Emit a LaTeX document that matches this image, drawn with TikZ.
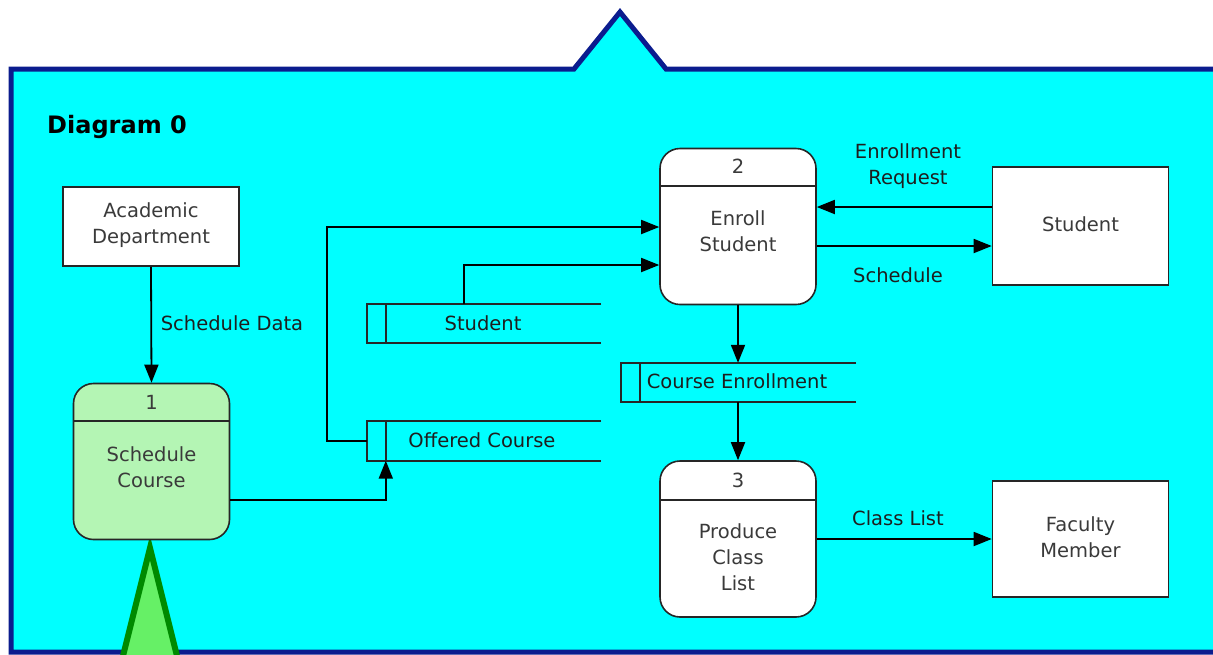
\documentclass[tikz,border=0pt]{standalone}
\usepackage{fontspec}
\setmainfont{DejaVu Sans}
\usetikzlibrary{arrows.meta}
\definecolor{frameblue}{HTML}{0B1C8E}
\definecolor{bgcyan}{HTML}{00FFFF}
\definecolor{procgreen}{HTML}{B4F5B4}
\definecolor{trifill}{HTML}{66F066}
\definecolor{tridraw}{HTML}{008A00}
\definecolor{inktext}{HTML}{1E1E1E}
\definecolor{boxtext}{HTML}{3A3A3A}
\begin{document}
\begin{tikzpicture}[x=1pt,y=-1pt,
  txt/.style={font=\fontsize{19.5}{26}\selectfont, align=center, inner sep=0pt},
  lbl/.style={txt, text=inktext},
  flow/.style={line width=1.8pt, draw=black, -{Triangle[length=18pt,width=14pt]}},
  plain/.style={line width=1.8pt, draw=black!85},
  extbox/.style={draw=black!85, line width=1.6pt, fill=white, minimum width=176pt, inner sep=0pt},
  procbox/.style={draw=black!85, line width=1.6pt, rounded corners=20pt, minimum width=156pt, minimum height=156pt, inner sep=0pt},
  storebox/.style={minimum height=39pt, inner sep=0pt}
]
\useasboundingbox (0,0) rectangle (1213,654);
\clip (0,0) rectangle (1213,654);
% frame
\draw[line width=5pt, draw=frameblue, fill=bgcyan, line join=miter]
  (1240,69) -- (666,69) -- (620,12) -- (574,69) -- (11,69) -- (11,652) -- (1240,652);
\node[anchor=west, font=\fontsize{24}{28}\selectfont\bfseries, inner sep=0pt] (title) at (47,127) {Diagram 0};
% green triangle
\draw[line width=6pt, draw=tridraw, fill=trifill, line join=miter] (112,700) -- (150,548) -- (188,700);
% external entities
\node[extbox, minimum height=79pt] (acad) at (151,226.5) {};
\node[txt, text=boxtext] (acadt) at (151,225) {Academic\\Department};
\node[extbox, minimum height=118pt] (stud) at (1080.5,226) {};
\node[txt, text=boxtext] (studt) at (1080.5,224) {Student};
\node[extbox, minimum height=116pt] (fac) at (1080.5,539) {};
\node[txt, text=boxtext] (fact) at (1080.5,537) {Faculty\\Member};
% processes
\node[procbox, fill=procgreen] (p1) at (151.5,461.5) {};
\draw[plain] (73,421) -- (230,421);
\node[txt, text=boxtext] (p1n) at (151.5,402) {1};
\node[txt, text=boxtext] (p1t) at (151.5,467) {Schedule\\Course};
\node[procbox, fill=white] (p2) at (738,226.5) {};
\draw[plain] (660,186) -- (816,186);
\node[txt, text=boxtext] (p2n) at (738,166) {2};
\node[txt, text=boxtext] (p2t) at (738,231) {Enroll\\Student};
\node[procbox, fill=white, minimum height=156pt] (p3) at (738,539) {};
\draw[plain] (660,500) -- (816,500);
\node[txt, text=boxtext] (p3n) at (738,480) {3};
\node[txt, text=boxtext] (p3t) at (738,557) {Produce\\Class\\List};
% data stores
\node[storebox, minimum width=234pt] (ds1) at (484,323.5) {};
\node[lbl] (ds1t) at (483,323) {Student};
\draw[plain] (ds1.north east) -- (ds1.north west) -- (ds1.south west) -- (ds1.south east);
\draw[plain] ([xshift=19pt]ds1.north west) -- ([xshift=19pt]ds1.south west);
\node[storebox, minimum width=234pt] (ds2) at (484,441) {};
\node[lbl] (ds2t) at (482,440) {Offered Course};
\draw[plain] (ds2.north east) -- (ds2.north west) -- (ds2.south west) -- (ds2.south east);
\draw[plain] ([xshift=19pt]ds2.north west) -- ([xshift=19pt]ds2.south west);
\node[storebox, minimum width=235pt] (ds3) at (738.5,382.5) {};
\node[lbl] (ds3t) at (737,381) {Course Enrollment};
\draw[plain] (ds3.north east) -- (ds3.north west) -- (ds3.south west) -- (ds3.south east);
\draw[plain] ([xshift=19pt]ds3.north west) -- ([xshift=19pt]ds3.south west);
% flows
\draw[flow] (acad.south) -- (p1.north);
\node[lbl] (l1) at (232,323) {Schedule Data};
\draw[flow] (p1.east |- 0,500) -| ([xshift=19pt]ds2.south west);
\draw[flow] (ds2.west) -- ++(-40,0) |- (p2.west |- 0,227);
\draw[flow] (ds1.north -| 464,0) |- (p2.west |- 0,265);
\draw[flow] (stud.west |- 0,207) -- (p2.east |- 0,207);
\node[lbl] (l2) at (908,166) {Enrollment\\Request};
\draw[flow] (p2.east |- 0,246) -- (stud.west |- 0,246);
\node[lbl] (l3) at (898,275) {Schedule};
\draw[flow] (p2.south) -- (ds3.north -| p2.south);
\draw[flow] (ds3.south -| p3.north) -- (p3.north);
\draw[flow] (p3.east |- 0,539) -- (fac.west |- 0,539);
\node[lbl] (l4) at (898,518) {Class List};
\end{tikzpicture}
\end{document}
